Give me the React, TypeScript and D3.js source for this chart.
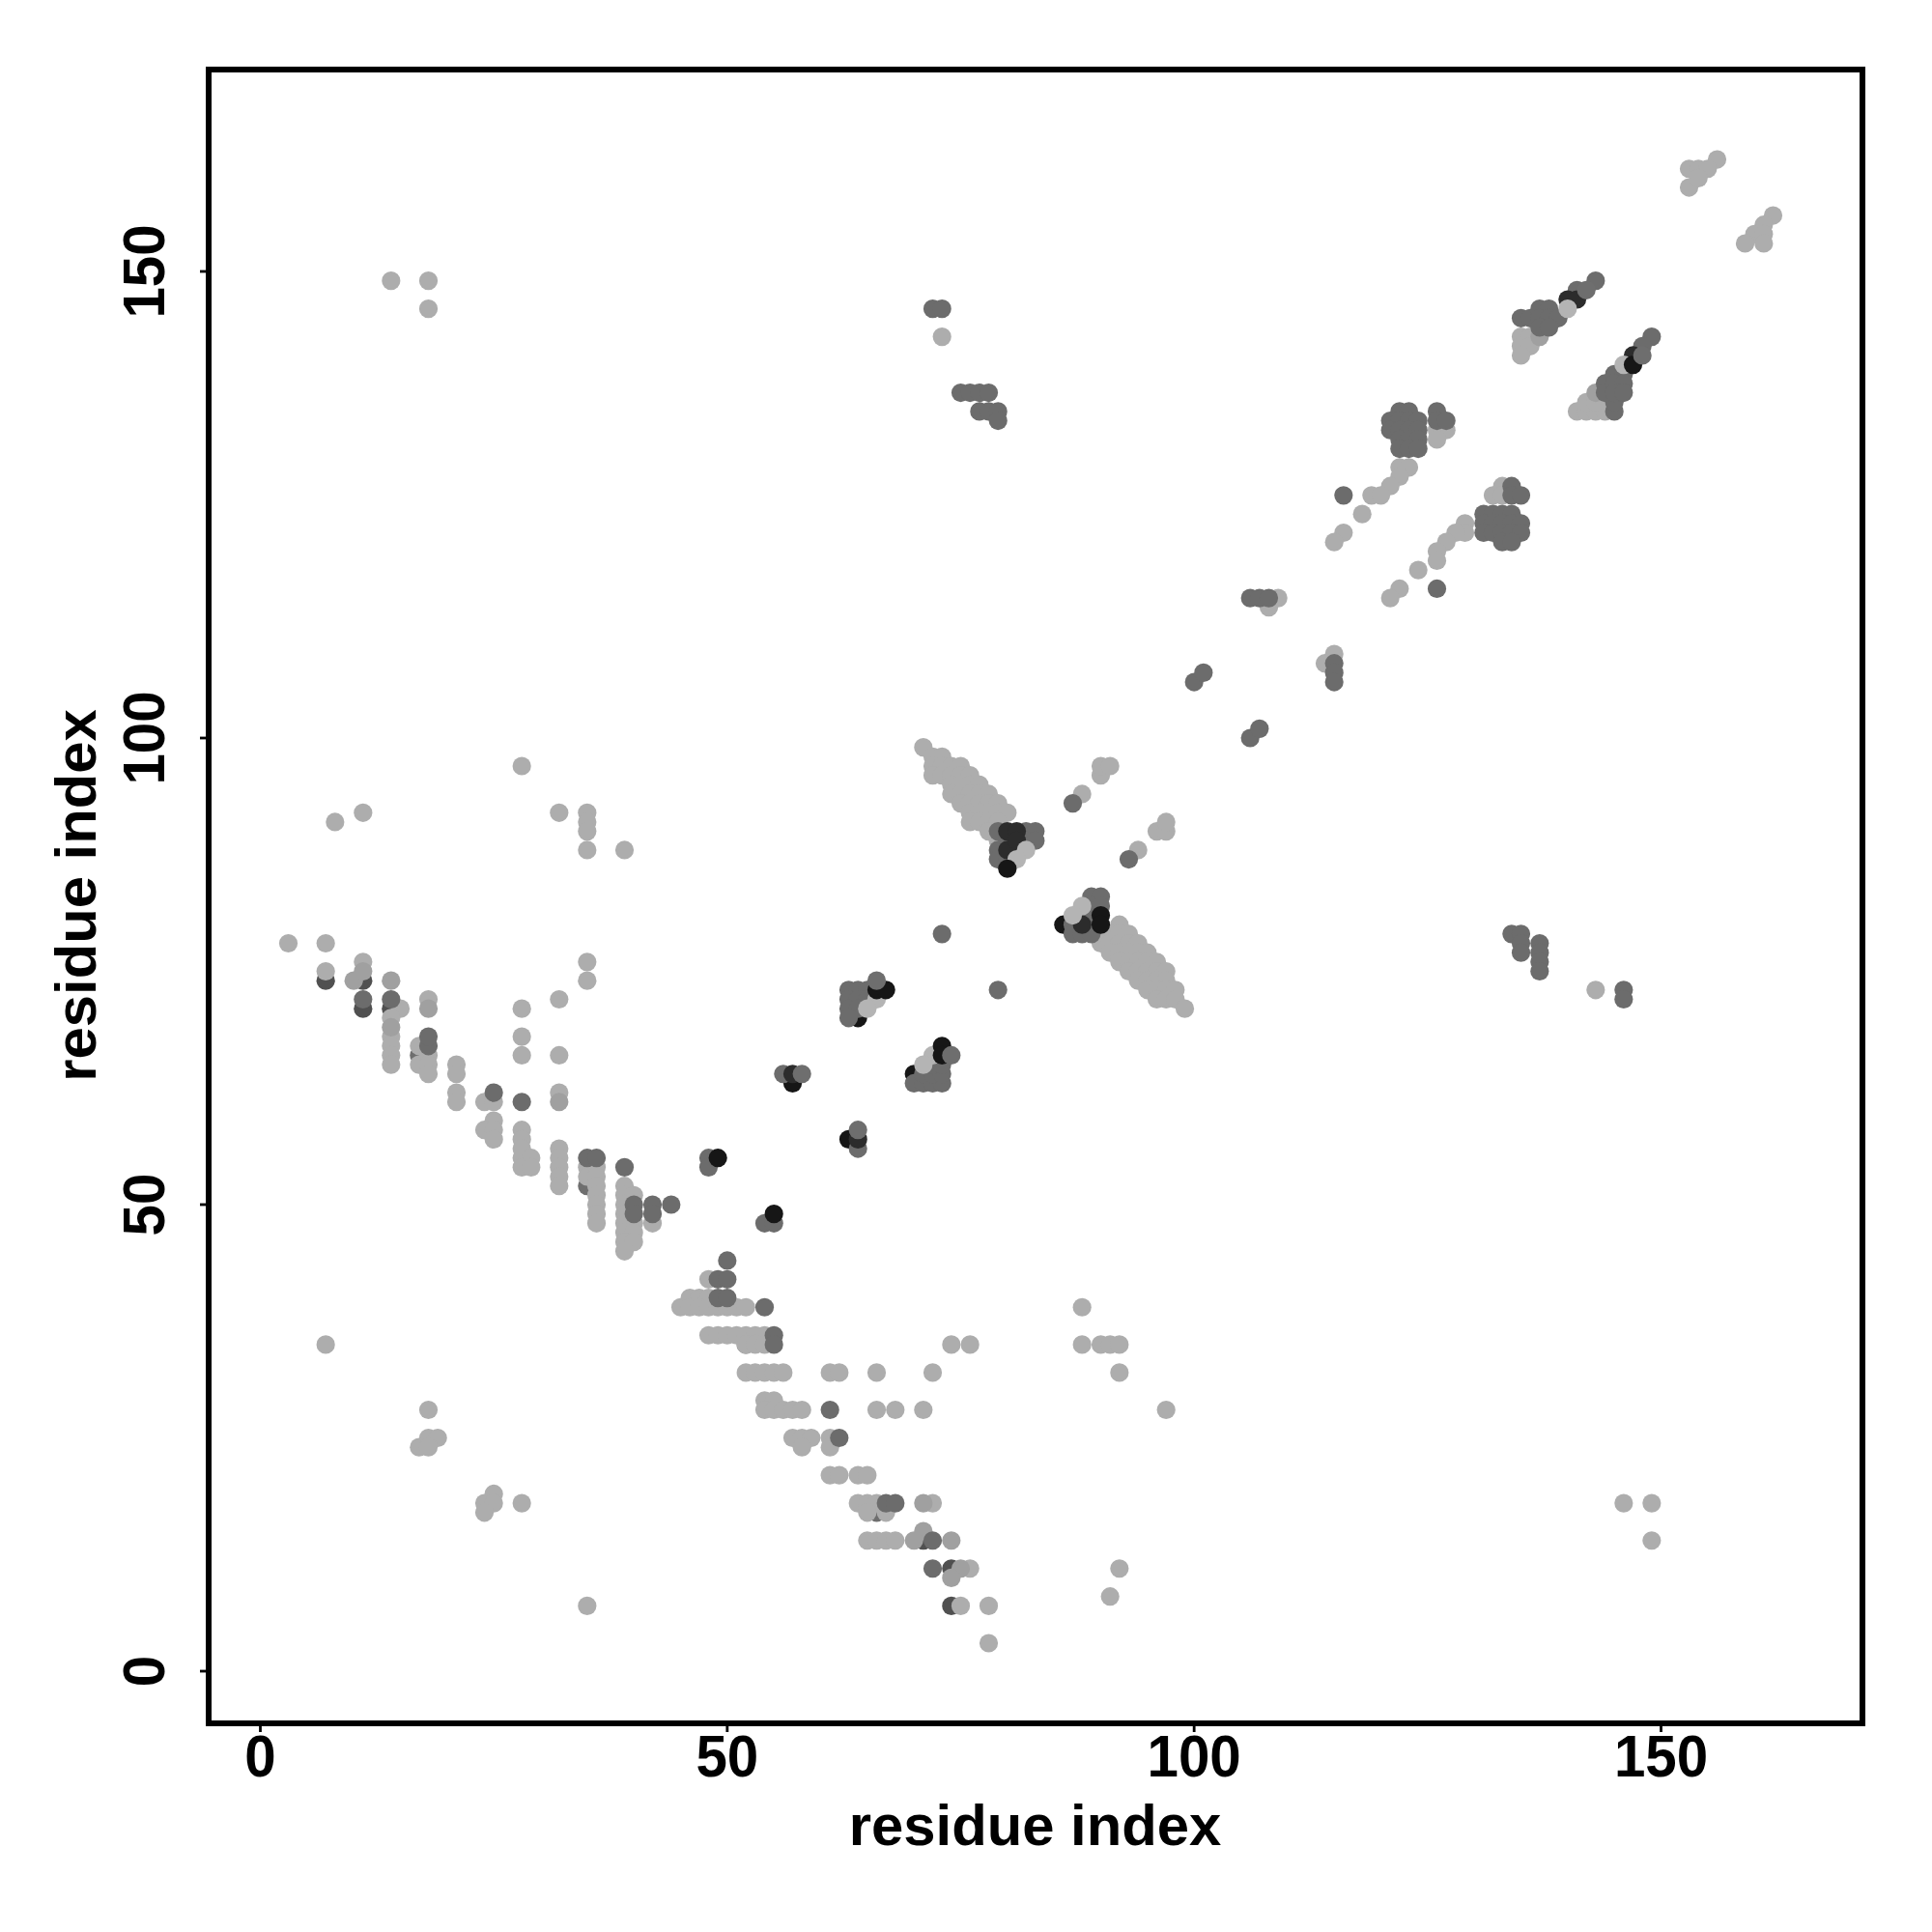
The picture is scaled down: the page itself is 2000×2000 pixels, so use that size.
import React from "react";
import * as d3 from "d3";

type P = [number, number];

const xTicks = [0, 50, 100, 150];
const yTicks = [0, 50, 100, 150];
const xTitle = "residue index";
const yTitle = "residue index";

const underBlack: P[] = [[64,70],[70,64],[63,57],[57,63],[86,80]];
const underDark: P[] = [[7,74],[11,74],[11,71],[14,71],[71,14],[74,11],[74,7]];
const underMid: P[] = [[17,66],[35,52],[52,35],[66,17],[90,79]];
const lightPts: P[] = [
  [3,78],[7,78],[11,76],[35,76],[7,75],[35,74],[18,72],[32,72],[15,71],[28,71],[14,70],[14,68],[28,68],[14,67],[17,67],[14,66],[18,66],[28,66],[32,66],
  [14,65],[17,65],[18,65],[21,65],[18,64],[21,64],[21,62],[32,62],[21,61],[24,61],[25,61],[25,59],[24,58],[25,58],[28,58],[25,57],[28,57],[28,56],[32,56],
  [28,55],[29,55],[32,55],[28,54],[29,54],[32,54],[35,54],[36,54],[32,53],[35,53],[36,53],[32,52],[36,52],[39,52],[36,51],[39,51],[40,51],[36,50],[39,50],
  [36,49],[39,49],[36,48],[39,48],[40,48],[42,48],[39,47],[40,47],[39,46],[40,46],[39,45],
  [48,42],[46,40],[47,40],[48,40],[45,39],[46,39],[47,39],[48,39],[49,39],[50,39],[51,39],[52,39],[88,39],
  [48,36],[49,36],[50,36],[51,36],[52,36],[53,36],[54,36],[52,35],[53,35],[54,35],[74,35],[76,35],[88,35],[90,35],[91,35],[92,35],
  [52,32],[53,32],[54,32],[55,32],[56,32],[61,32],[62,32],[66,32],[72,32],[92,32],[54,29],[55,29],[54,28],[55,28],[56,28],[57,28],[58,28],[66,28],[68,28],[71,28],[97,28],[18,28],
  [57,25],[58,25],[59,25],[61,25],[58,24],[61,24],[18,25],[19,25],[17,24],[18,24],[61,21],[62,21],[64,21],[65,21],[64,18],[65,18],[66,18],[72,18],[65,17],[67,17],
  [65,14],[66,14],[67,14],[68,14],[76,11],[92,11],[75,7],[78,7],[91,8],[78,3],[7,35],[35,7],[24,18],[25,19],[25,18],[24,17],[28,18],[146,18],[149,18],[149,14],
  [8,91],[11,92],[28,97],[32,92],[35,92],[35,91],[35,90],[35,88],[39,88],[14,149],[18,149],[18,146],[73,143],[143,73],[90,96],[90,97],[91,97],[88,94],[94,88],[96,90],[97,90],[97,91],
  [114,108],[115,109],[108,114],[109,115],[126,133],[127,133],[126,132],[122,129],[123,129],[122,128],[121,127],[119,126],[120,126],[118,124],[116,122],[115,121],
  [129,123],[129,122],[128,122],[127,121],[126,120],[126,119],[124,118],[122,116],[121,115],[133,127],[132,126],[133,126],
  [141,135],[142,135],[143,135],[144,135],[142,136],[143,136],[135,143],[136,143],[135,142],[136,142],[135,141],
  [156,162],[153,161],[154,161],[155,161],[153,159],[154,160],[162,156],[161,155],[160,154],[161,154],[159,153],[161,153],
];
const stripUpper: P[] = [
  [71,99],[72,98],[73,98],[72,97],[73,97],[74,97],[75,97],[72,96],[73,96],[74,96],[75,96],[76,96],[74,95],[75,95],[76,95],[77,95],
  [74,94],[75,94],[76,94],[77,94],[78,94],[75,93],[76,93],[77,93],[78,93],[79,93],[76,92],[77,92],[78,92],[79,92],[80,92],[76,91],[77,91],[78,91],[79,91],[78,90],[79,89],
];
const stripLower: P[] = [
  [92,80],[91,79],[92,79],[93,79],[90,78],[91,78],[92,78],[93,78],[94,78],[91,77],[92,77],[93,77],[94,77],[95,77],[92,76],[93,76],[94,76],[95,76],[96,76],
  [93,75],[94,75],[95,75],[96,75],[97,75],[94,74],[95,74],[96,74],[97,74],[95,73],[96,73],[97,73],[98,73],[96,72],[97,72],[98,72],[99,71],
];
const lightDark: P[] = [[10,74],[14,74],[11,75],[18,71],[14,69],[32,61],[71,18],[71,15],[70,14],[74,14],[75,11],[74,10],[143,137],[137,143]];
const midPts: P[] = [
  [11,72],[14,72],[18,67],[18,68],[25,62],[28,61],[35,55],[36,55],[48,55],[39,54],[48,54],[40,50],[42,50],[44,50],[40,49],[42,49],[50,44],[49,42],[50,42],[49,40],[50,40],
  [54,39],[55,36],[55,35],[54,48],[55,48],[61,28],[62,25],[67,18],[68,18],[72,14],[72,11],[56,64],[64,56],[73,79],[79,73],
  [63,73],[64,73],[65,73],[63,72],[64,72],[65,72],[63,71],[64,71],[63,70],[70,63],[71,63],[72,63],[73,63],[71,64],[72,64],[73,64],[72,65],[73,65],
  [80,89],[79,90],[79,88],[79,87],[80,87],[81,88],[82,90],[83,90],[82,89],[83,89],
  [89,83],[90,83],[89,82],[90,82],[87,80],[87,79],[88,79],[88,81],[89,81],[89,80],[89,79],
  [72,146],[73,146],[75,137],[76,137],[77,137],[78,137],[77,135],[78,135],[79,135],[79,134],[134,79],[135,79],[135,78],[135,77],[137,78],[137,77],[137,76],[137,75],[146,73],[146,72],
  [87,93],[93,87],[106,100],[107,101],[100,106],[101,107],[115,108],[115,107],[115,106],[106,115],[107,115],[108,115],[116,126],[126,116],
  [122,135],[123,135],[126,135],[121,134],[122,134],[123,134],[124,134],[126,134],[127,134],[121,133],[122,133],[123,133],[124,133],[122,132],[123,132],[124,132],[122,131],[123,131],[124,131],
  [134,127],[134,126],[135,126],[131,124],[132,124],[133,124],[134,124],[131,123],[132,123],[133,123],[134,123],[135,123],[131,122],[132,122],[133,122],[134,122],[135,122],[133,121],[134,121],[145,135],[145,136],
  [143,149],[141,148],[135,145],[136,145],[137,146],[138,146],[137,145],[138,145],[139,145],[137,144],[138,144],
  [149,143],[148,142],[144,138],[144,137],[145,139],[146,139],[145,138],[146,138],[145,137],[146,137],
];
const nearBlack: P[] = [[57,64],[64,57],[80,90],[81,90],[80,88],[81,89],[88,80],[140,147],[141,147],[147,141]];
const topLight: P[] = [[66,72],[65,71],[72,66],[71,65],[88,82],[87,81],[82,88],[81,87],[146,140],[140,146]];
const topBlack: P[] = [[66,73],[67,73],[73,67],[73,66],[55,49],[49,55],[90,81],[90,80],[147,140],[80,86]];
const topMid: P[] = [[74,66],[66,74],[58,64],[64,58],[142,148],[148,141]];

const layers: { pts: P[]; fill: string }[] = [
  { pts: underBlack, fill: "#161616" },
  { pts: underDark, fill: "#505050" },
  { pts: underMid, fill: "#6e6e6e" },
  { pts: lightPts, fill: "#adadad" },
  { pts: stripUpper, fill: "#adadad" },
  { pts: stripLower, fill: "#adadad" },
  { pts: lightDark, fill: "#a0a0a0" },
  { pts: midPts, fill: "#6c6c6c" },
  { pts: nearBlack, fill: "#2c2c2c" },
  { pts: topLight, fill: "#b4b4b4" },
  { pts: topBlack, fill: "#161616" },
  { pts: topMid, fill: "#6e6e6e" },
];

const x = d3.scaleLinear().domain([0, 150]).range([269.5, 1719.5]);
const y = d3.scaleLinear().domain([0, 150]).range([1730, 281]);
const frame = { left: 216, right: 1928, top: 72, bottom: 1784 };
const font = "'Liberation Sans', Arial, sans-serif";

export default function App() {
  return (
    <svg width={2000} height={2000} viewBox="0 0 2000 2000" style={{ position: "absolute", left: 0, top: 0, background: "#fff" }}>
      {layers.map((l, i) => (
        <g key={i} fill={l.fill}>
          {l.pts.map(([a, b], j) => (
            <circle key={j} cx={x(a)} cy={y(b)} r={9.6} />
          ))}
        </g>
      ))}
      <rect x={frame.left} y={frame.top} width={frame.right - frame.left} height={frame.bottom - frame.top} fill="none" stroke="#000" strokeWidth={6} />
      {xTicks.map((t) => (
        <g key={t}>
          <line x1={x(t)} x2={x(t)} y1={frame.bottom} y2={frame.bottom + 9} stroke="#000" strokeWidth={2.8} />
          <text transform={`translate(${x(t)},1839) scale(0.94,1)`} textAnchor="middle" fontFamily={font} fontWeight="bold" fontSize={62} fill="#000">{t}</text>
        </g>
      ))}
      {yTicks.map((t) => (
        <g key={t}>
          <line x1={frame.left} x2={frame.left - 9} y1={y(t)} y2={y(t)} stroke="#000" strokeWidth={2.8} />
          <text transform={`translate(170,${y(t)}) rotate(-90) scale(0.94,1)`} textAnchor="middle" fontFamily={font} fontWeight="bold" fontSize={62} fill="#000">{t}</text>
        </g>
      ))}
      <text x={1071.5} y={1910} textAnchor="middle" fontFamily={font} fontWeight="bold" fontSize={59.8} fill="#000">{xTitle}</text>
      <text transform="translate(99,927) rotate(-90)" textAnchor="middle" fontFamily={font} fontWeight="bold" fontSize={59.8} fill="#000">{yTitle}</text>
    </svg>
  );
}
